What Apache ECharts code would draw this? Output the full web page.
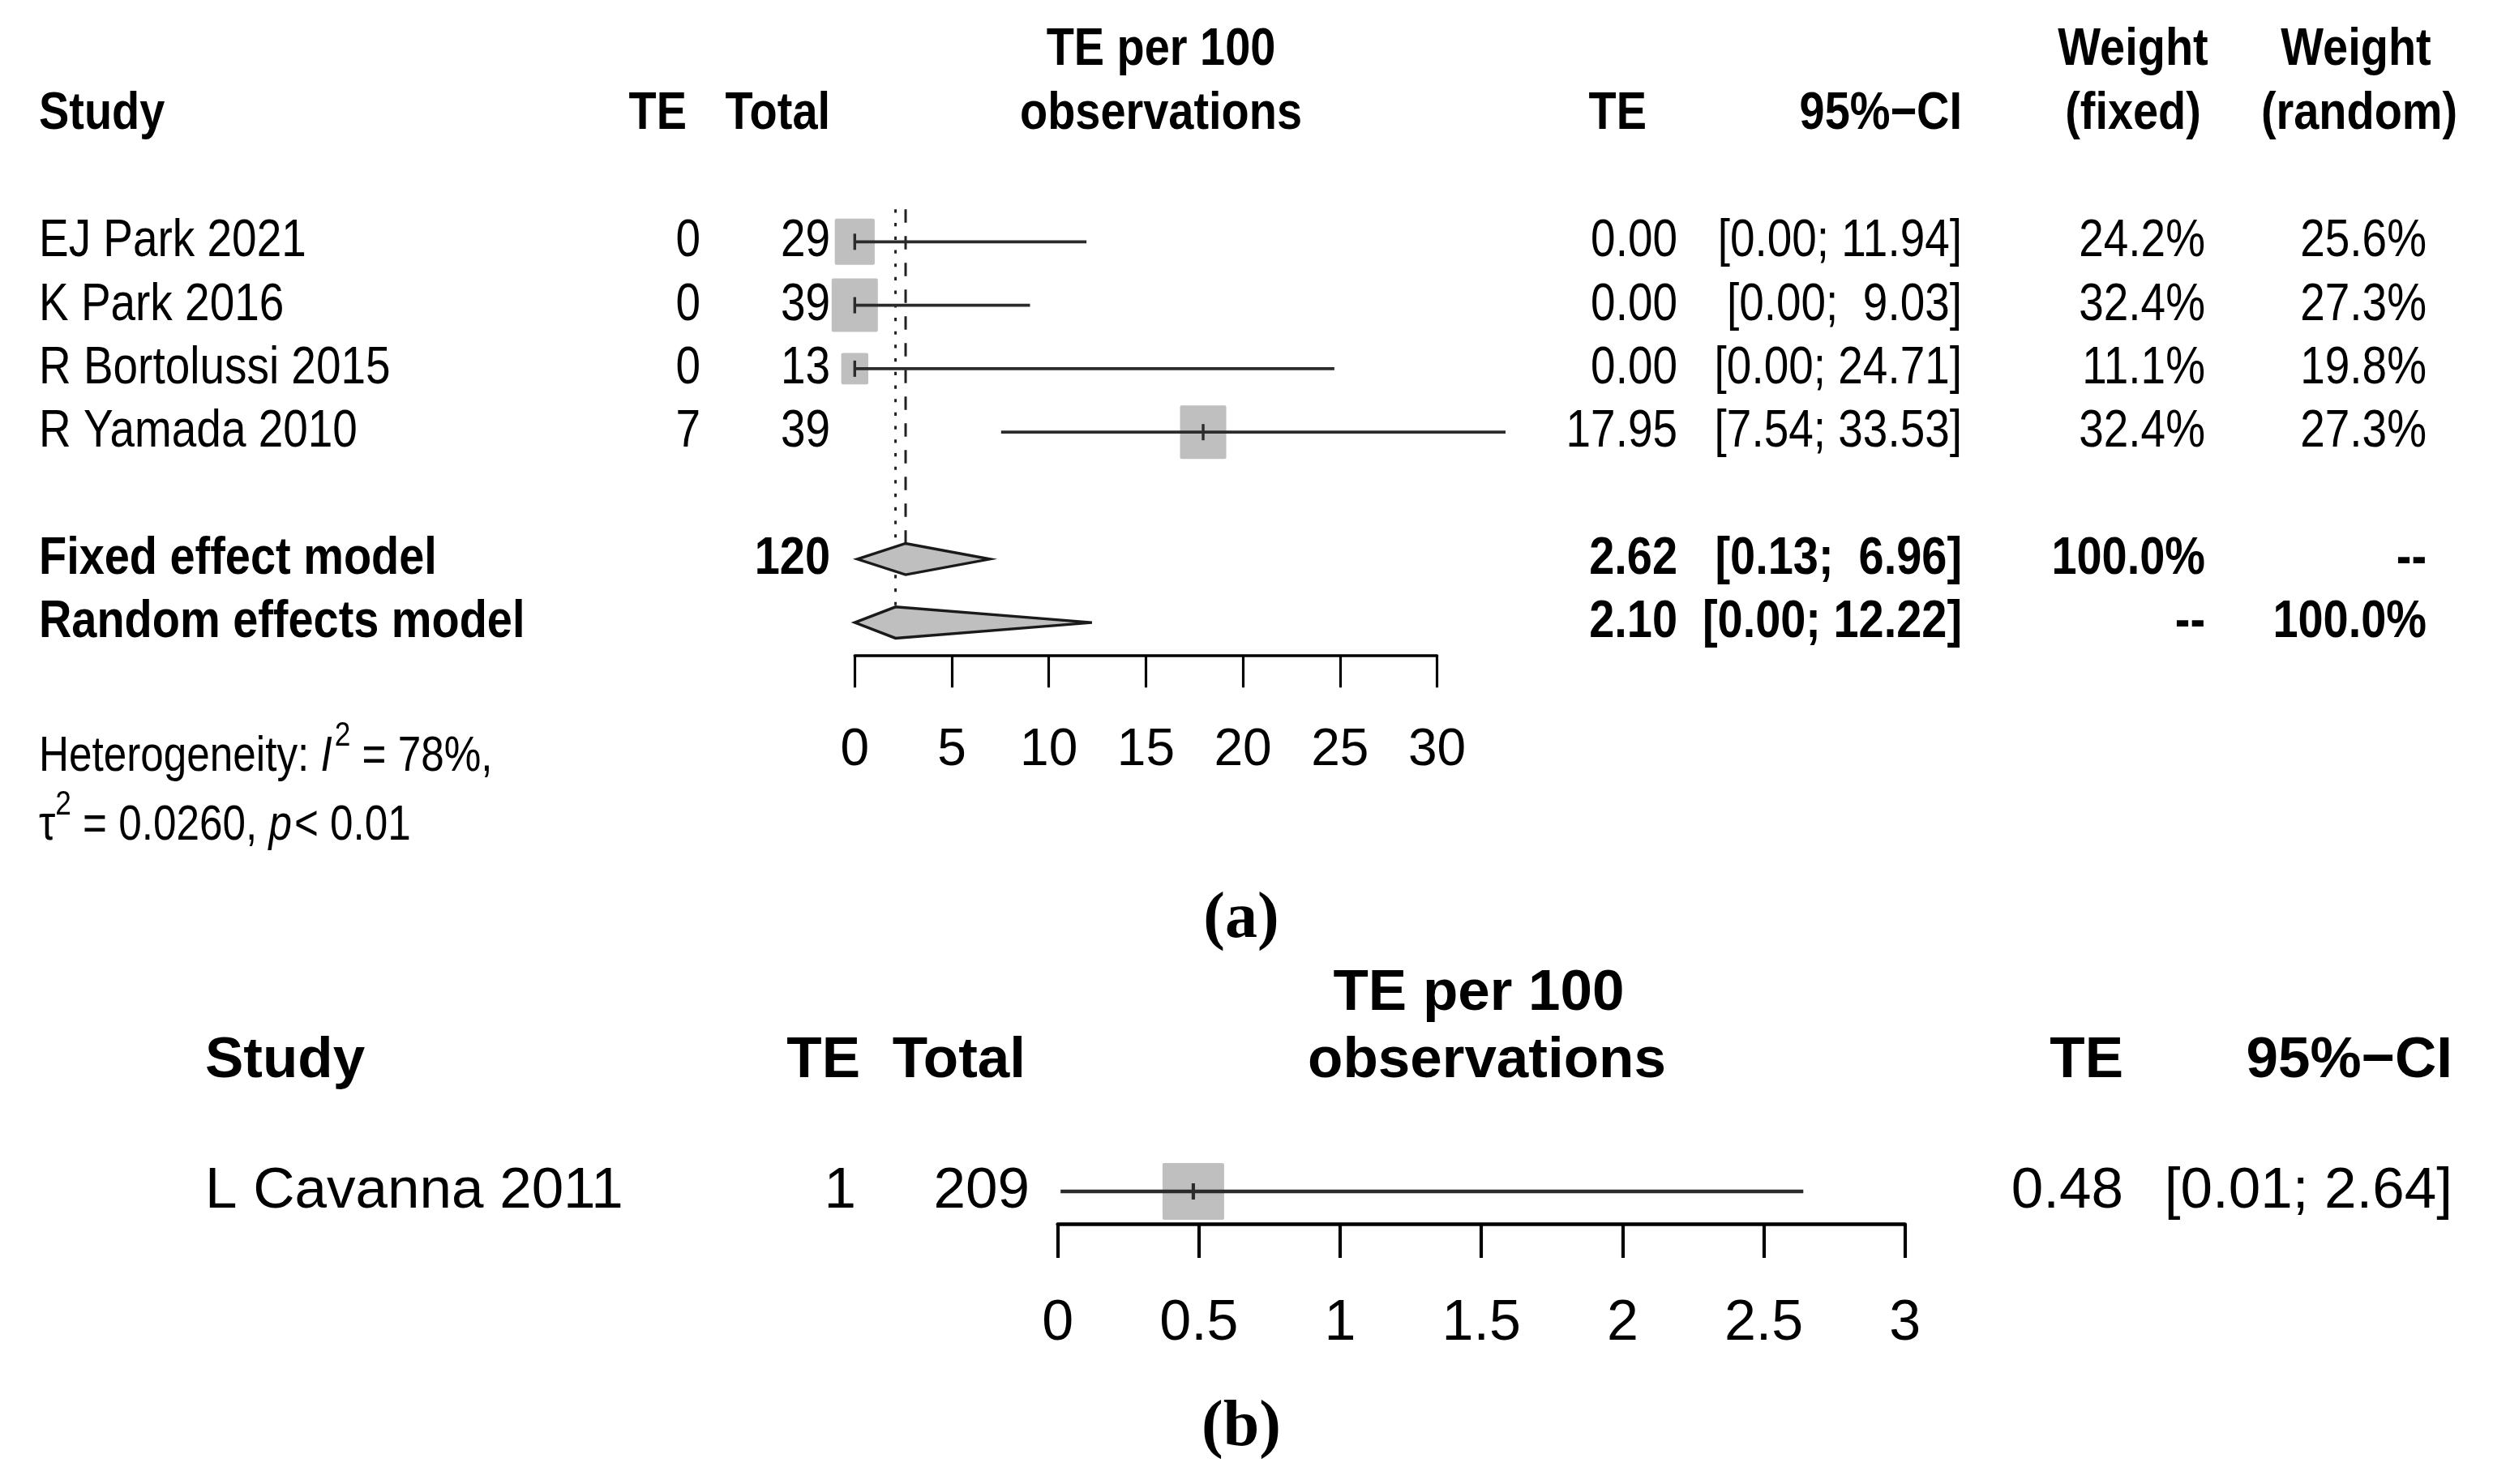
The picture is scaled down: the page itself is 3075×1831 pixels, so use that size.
<!DOCTYPE html>
<html><head><meta charset="utf-8">
<script src="https://cdn.jsdelivr.net/npm/echarts/dist/echarts.min.js"></script>
<style>html,body{margin:0;padding:0;background:#fff}#c{width:3075px;height:1831px}</style>
</head><body><div id="c"></div>
<script>
// ---------- Panel (a) data ----------
const studiesA = ['EJ Park 2021', 'K Park 2016', 'R Bortolussi 2015', 'R Yamada 2010'];
const eventsA = [0, 0, 0, 7];
const totalsA = [29, 39, 13, 39];
const teA = [0.00, 0.00, 0.00, 17.95];
const lowerA = [0.00, 0.00, 0.00, 7.54];
const upperA = [11.94, 9.03, 24.71, 33.53];
const wFixedA = [24.2, 32.4, 11.1, 32.4];
const wRandomA = [25.6, 27.3, 19.8, 27.3];
const modelNamesA = ['Fixed effect model', 'Random effects model'];
const modelTotalA = [120, null];
const modelTeA = [2.62, 2.10];
const modelLowerA = [0.13, 0.00];
const modelUpperA = [6.96, 12.22];
const modelWFixedA = ['100.0%', '--'];
const modelWRandomA = ['--', '100.0%'];
const ticksA = [0, 5, 10, 15, 20, 25, 30];
const hetLine1 = [['Heterogeneity: ', ''], ['I', 'i'], ['2', 's'], [' = 78%,', '']];
const hetLine2 = [['\u03c4', ''], ['2', 's'], [' = 0.0260, ', ''], ['p', 'i'], ['< 0.01', '']];

// ---------- Panel (b) data ----------
const studiesB = ['L Cavanna 2011'];
const eventsB = [1];
const totalsB = [209];
const teB = [0.48];
const lowerB = [0.01];
const upperB = [2.64];
const ticksB = [0, 0.5, 1, 1.5, 2, 2.5, 3];

// ---------- helpers ----------
const rowsA = studiesA.map((_, i) => i);
const modelRowsA = [5, 6];
function f2(v) { return v.toFixed(2); }
function ci(lo, hi) { return '[' + f2(lo) + '; ' + f2(hi).padStart(5, ' ') + ']'; }
const FONT = '"Liberation Sans", Arial, Helvetica, sans-serif';
const NARROW = '"Liberation Sans Narrow", "Arial Narrow", "Liberation Sans", Arial, sans-serif';
const INK = '#2b2b2b';

const chart = echarts.init(document.getElementById('c'), null, {renderer: 'canvas', width: 3075, height: 1831});

function studyRender(boxW, boxH, refW, lw) {
  return function (params, api) {
    const te = api.value(0), lo = api.value(1), hi = api.value(2), row = api.value(3), w = api.value(4);
    const c = api.coord([te, row]), a = api.coord([lo, row]), b = api.coord([hi, row]);
    const k = Math.sqrt(w / refW);
    const bw = boxW * k, bh = boxH * k;
    return {type: 'group', children: [
      {type: 'rect', shape: {x: c[0] - bw / 2, y: c[1] - bh / 2, width: bw, height: bh, r: 2}, style: {fill: '#bfbfbf'}},
      {type: 'line', shape: {x1: a[0], y1: a[1], x2: b[0], y2: b[1]}, style: {stroke: INK, lineWidth: lw}},
      {type: 'line', shape: {x1: c[0], y1: c[1] - 10, x2: c[0], y2: c[1] + 10}, style: {stroke: INK, lineWidth: lw * 0.9}}
    ]};
  };
}

const DIAMOND_HALF = 19.3;
function diamondRender(params, api) {
  const te = api.value(0), lo = api.value(1), hi = api.value(2), row = api.value(3);
  const c = api.coord([te, row]), a = api.coord([lo, row]), b = api.coord([hi, row]);
  return {type: 'polygon', shape: {points: [[a[0], a[1]], [c[0], c[1] - DIAMOND_HALF], [b[0], b[1]], [c[0], c[1] + DIAMOND_HALF]]},
    style: {fill: '#bfbfbf', stroke: '#1a1a1a', lineWidth: 3.4, lineJoin: 'miter'}};
}
function refLineRender(params, api) {
  const te = api.value(0), row = api.value(1);
  const top = api.coord([te, -0.51]);
  const bot = api.coord([te, row]);
  const dash = params.dataIndex === 0 ? [16.5, 16.5] : [4.2, 12.5];
  return {type: 'line', shape: {x1: top[0], y1: top[1], x2: bot[0], y2: bot[1] - DIAMOND_HALF},
    style: {stroke: '#222', lineWidth: 3, lineDash: dash}};
}

const axisCommon = (lw, tl, fs, margin, fam) => ({
  type: 'value',
  axisLine: {show: true, onZero: false, lineStyle: {color: '#000', width: lw}},
  axisTick: {show: true, inside: false, length: tl, lineStyle: {color: '#000', width: lw * 0.9}},
  axisLabel: {show: true, color: '#000', fontSize: fs, fontFamily: fam, margin: margin, lineHeight: fs, showMinLabel: true, showMaxLabel: true},
  splitLine: {show: false}
});

const ROW0 = 298.3, STEP = 78.3, AXIS_A = 808.3;
const yMinA = -0.55, yMaxA = (AXIS_A - ROW0) / STEP;

const option = {
  backgroundColor: '#fff',
  animation: false,
  grid: [
    {left: 1054.3, top: ROW0 + yMinA * STEP, width: 718.2, height: (yMaxA - yMinA) * STEP},
    {left: 1304.7, top: 1430, width: 1045, height: 80}
  ],
  xAxis: [
    Object.assign(axisCommon(3.5, 40, 64, 86, NARROW), {gridIndex: 0, min: ticksA[0], max: ticksA[ticksA.length - 1], interval: ticksA[1] - ticksA[0]}),
    Object.assign(axisCommon(4.6, 42, 70, 89, FONT), {gridIndex: 1, min: ticksB[0], max: ticksB[ticksB.length - 1], interval: ticksB[1] - ticksB[0]})
  ],
  yAxis: [
    {gridIndex: 0, type: 'value', min: yMinA, max: yMaxA, inverse: true, show: false},
    {gridIndex: 1, type: 'value', min: -0.5, max: 0.5, inverse: true, show: false}
  ],
  series: [
    {type: 'custom', xAxisIndex: 0, yAxisIndex: 0, clip: false, renderItem: refLineRender,
      data: modelTeA.map((v, i) => [v, modelRowsA[i]]), z: 1},
    {type: 'custom', xAxisIndex: 0, yAxisIndex: 0, clip: false, renderItem: studyRender(57, 66, 32.4, 3.8),
      data: rowsA.map(i => [teA[i], lowerA[i], upperA[i], i, wFixedA[i]]), z: 2},
    {type: 'custom', xAxisIndex: 0, yAxisIndex: 0, clip: false, renderItem: diamondRender,
      data: modelTeA.map((v, i) => [v, modelLowerA[i], modelUpperA[i], modelRowsA[i]]), z: 3},
    {type: 'custom', xAxisIndex: 1, yAxisIndex: 1, clip: false, renderItem: studyRender(76, 70, 100, 4.6),
      data: studiesB.map((_, i) => [teB[i], lowerB[i], upperB[i], i, 100]), z: 2}
  ]
};
chart.setOption(option);

// ---------- table text ----------
function T(x, y, text, o) {
  o = o || {};
  const align = o.align || 'left';
  return {type: 'text', x: x, y: y, scaleX: o.sx || 1, silent: true, z: 10,
    style: {text: text, fill: '#000', fontSize: o.fs || 65, fontWeight: o.bold ? 'bold' : 'normal',
      fontStyle: o.italic ? 'italic' : 'normal',
      fontFamily: o.family || FONT, align: align, textAlign: align, verticalAlign: 'middle', textVerticalAlign: 'middle'}};
}
const els = [];
const yA = r => chart.convertToPixel({gridIndex: 0}, [0, r])[1];
const yB = r => chart.convertToPixel({gridIndex: 1}, [0, r])[1];
const A = {fs: 65, sx: 0.845};
const AB = {fs: 65, sx: 0.86, bold: true};
const R = o => Object.assign({align: 'right'}, o);
const C = o => Object.assign({align: 'center'}, o);
const hA1 = 62.5, hA2 = 141;
// headers (a)
els.push(T(48, hA2, 'Study', AB));
els.push(T(847, hA2, 'TE', R(AB)));
els.push(T(1024, hA2, 'Total', R(AB)));
els.push(T(1432, hA1, 'TE per 100', C(AB)));
els.push(T(1432, hA2, 'observations', C(AB)));
els.push(T(2031, hA2, 'TE', R(AB)));
els.push(T(2420, hA2, '95%\u2212CI', R(AB)));
els.push(T(2631, hA1, 'Weight', C(AB)));
els.push(T(2631, hA2, '(fixed)', C(AB)));
els.push(T(2906, hA1, 'Weight', C(AB)));
els.push(T(2910, hA2, '(random)', C(AB)));
// rows (a)
rowsA.forEach(i => {
  const y = yA(i);
  els.push(T(48, y, studiesA[i], A));
  els.push(T(864, y, String(eventsA[i]), R(A)));
  els.push(T(1024, y, String(totalsA[i]), R(A)));
  els.push(T(2069, y, f2(teA[i]), R(A)));
  els.push(T(2420, y, ci(lowerA[i], upperA[i]), R(A)));
  els.push(T(2720, y, wFixedA[i].toFixed(1) + '%', R(A)));
  els.push(T(2993, y, wRandomA[i].toFixed(1) + '%', R(A)));
});
modelRowsA.forEach((r, i) => {
  const y = yA(r);
  els.push(T(48, y, modelNamesA[i], AB));
  if (modelTotalA[i] != null) els.push(T(1024, y, String(modelTotalA[i]), R(AB)));
  els.push(T(2069, y, f2(modelTeA[i]), R(AB)));
  els.push(T(2420, y, ci(modelLowerA[i], modelUpperA[i]), R(AB)));
  els.push(T(2720, y, modelWFixedA[i], R(AB)));
  els.push(T(2993, y, modelWRandomA[i], R(AB)));
});
// heterogeneity (pieces placed with measured widths)
const mctx = document.createElement('canvas').getContext('2d');
function hetLine(x, y, parts) {
  const fs = 61, sfs = 42, sx = 0.84;
  parts.forEach(([t, kind]) => {
    const f = kind === 's' ? sfs : fs;
    const it = kind === 'i';
    mctx.font = (it ? 'italic ' : '') + f + 'px ' + FONT;
    const w = mctx.measureText(t).width * sx;
    els.push(T(x, kind === 's' ? y - 26 : y, t, {fs: f, sx: sx, italic: it}));
    x += w + (kind === 'i' ? 3 : 0);
  });
}
hetLine(48, 934, hetLine1);
hetLine(48, 1019, hetLine2);
// panel labels
els.push(T(1531, 1135, '(a)', {fs: 80, bold: true, align: 'center', family: '"Liberation Serif", "Times New Roman", serif'}));
els.push(T(1531, 1762, '(b)', {fs: 80, bold: true, align: 'center', family: '"Liberation Serif", "Times New Roman", serif'}));

// panel (b) text
const B = {fs: 71, sx: 1.0};
const BB = {fs: 71, sx: 1.0, bold: true};
const hB1 = 1226, hB2 = 1309;
els.push(T(253, hB2, 'Study', BB));
els.push(T(1061, hB2, 'TE', R(BB)));
els.push(T(1265, hB2, 'Total', R(BB)));
els.push(T(1824, hB1, 'TE per 100', C(BB)));
els.push(T(1834, hB2, 'observations', C(BB)));
els.push(T(2619, hB2, 'TE', R(BB)));
els.push(T(3025, hB2, '95%\u2212CI', R(BB)));
studiesB.forEach((s, i) => {
  const y = yB(i);
  els.push(T(253, y, s, B));
  els.push(T(1056, y, String(eventsB[i]), R(B)));
  els.push(T(1270, y, String(totalsB[i]), R(B)));
  els.push(T(2619, y, f2(teB[i]), R(B)));
  els.push(T(3025, y, ci(lowerB[i], upperB[i]).replace(/;\s+/, '; '), R(B)));
});
chart.setOption({graphic: {elements: els}});
</script></body></html>
